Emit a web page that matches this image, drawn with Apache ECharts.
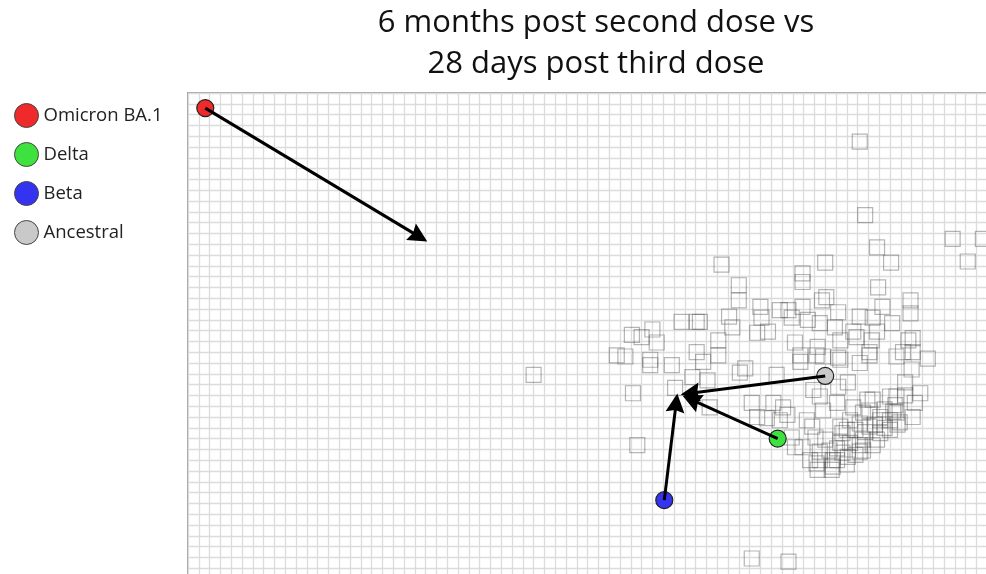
<!DOCTYPE html>
<html>
<head>
<meta charset="utf-8">
<script src="https://cdn.jsdelivr.net/npm/echarts@6/dist/echarts.min.js"></script>
<style>
  html, body { margin: 0; padding: 0; background: #fff; }
  #main { width: 986px; height: 574px; }
</style>
</head>
<body>
<div id="main"></div>
<script>
// map units: one grid cell = 1 unit
const antigenNames = ['Omicron BA.1', 'Delta', 'Beta', 'Ancestral'];
const antigenColors = ['#ee2a2a', '#3ee23e', '#3434f0', '#c9c9c9'];
const antigenX = [1.6, 54.6, 44.1, 59.0];
const antigenY = [43.6, 13.0, 7.3, 18.8];
// where each antigen moved to (arrow head)
const movedX = [21.4, 46.6, 45.2, 46.5];
const movedY = [31.7, 16.6, 16.3, 17.2];

// sera positions [x, y]
const sera = [
  [62.2, 40.5], [62.7, 33.7], [63.8, 30.7], [65.1, 29.3], [59.0, 29.3], [70.8, 31.5],
  [72.2, 29.4], [73.6, 31.5], [49.4, 29.1], [56.9, 28.3], [56.9, 27.5], [63.9, 27.0],
  [64.3, 25.2], [66.9, 25.8], [66.9, 24.6], [60.2, 24.7], [59.1, 26.1], [62.2, 24.3],
  [63.4, 24.2], [65.2, 23.7], [59.9, 23.3], [61.9, 22.4], [63.3, 22.1], [66.7, 22.1],
  [60.4, 22.1], [66.2, 21.0], [67.1, 21.0], [68.5, 20.4], [63.1, 21.0], [60.2, 20.5],
  [58.8, 20.6], [62.2, 20.0], [51.0, 27.2], [51.0, 25.8], [53.0, 25.2], [53.1, 24.2],
  [50.1, 24.3], [50.4, 23.3], [52.7, 22.8], [53.7, 22.9], [55.6, 24.9], [56.9, 25.2],
  [57.4, 24.0], [58.7, 25.8], [58.5, 23.7], [49.1, 22.1], [49.1, 20.7], [56.2, 21.9],
  [56.7, 20.7], [58.3, 21.5], [47.4, 23.8], [51.6, 19.5], [54.8, 24.9], [55.9, 24.2],
  [41.1, 22.6], [42.0, 22.4], [43.0, 23.1], [43.4, 21.9], [39.7, 20.7], [40.5, 20.6],
  [42.8, 20.3], [42.8, 19.8], [44.8, 19.8], [45.7, 23.8], [47.1, 23.8], [47.1, 21.0],
  [47.7, 20.1], [46.7, 18.7], [48.1, 18.4], [41.2, 17.2], [45.1, 17.7], [32.0, 18.9],
  [41.6, 12.4], [52.2, 1.9], [55.6, 1.6], [51.1, 19.1], [54.5, 18.9], [56.7, 20.1],
  [48.3, 15.9], [52.2, 16.3], [54.2, 16.3], [55.1, 15.9], [52.7, 15.0], [53.6, 14.9],
  [55.5, 15.2], [55.9, 13.1], [57.8, 14.1], [58.1, 13.1], [58.5, 16.9], [58.8, 15.6],
  [60.1, 16.3], [60.4, 14.1], [58.5, 11.8], [58.5, 11.0], [59.7, 11.0], [60.4, 12.6],
  [61.1, 18.2], [60.2, 17.8], [57.9, 17.5], [62.9, 16.6], [65.6, 16.9], [67.3, 16.3],
  [67.1, 15.0], [65.3, 15.5], [61.6, 15.9], [54.8, 14.7], [57.3, 14.7], [56.9, 12.2],
  [61.0, 13.8], [62.2, 14.4], [64.1, 14.7], [65.9, 14.5], [59.4, 11.9], [58.2, 10.7],
  [59.7, 10.4], [61.1, 11.3], [62.5, 11.9], [63.8, 12.9], [65.0, 13.8], [60.4, 20.3],
  [63.1, 20.7], [65.6, 20.6], [67.0, 19.4], [66.4, 18.2], [67.8, 17.2], [65.0, 16.9],
  [63.4, 16.6], [62.5, 15.4], [64.1, 15.0], [65.6, 15.4], [65.7, 14.3], [64.5, 14.0],
  [63.1, 14.1], [61.8, 13.8], [60.6, 13.5], [61.3, 12.6], [62.5, 12.9], [60.1, 12.1],
  [62.2, 11.8], [60.1, 11.0], [59.6, 10.1], [56.2, 12.2], [57.6, 11.0], [58.3, 10.1],
  [60.6, 11.7], [62.2, 12.4], [63.4, 12.4], [67.1, 22.3], [63.8, 22.9], [61.6, 22.9],
  [58.2, 20.7], [61.0, 10.6], [61.8, 11.5], [64.1, 13.5], [65.0, 14.7], [65.5, 16.1],
  [61.3, 14.7], [62.7, 13.6], [63.6, 14.3], [64.5, 15.7], [66.4, 17.0], [59.0, 12.9],
  [63.1, 15.6]
];

const FONT = '"Open Sans", "Noto Sans", sans-serif';

let chart = echarts.init(document.getElementById('main'));

let antigenSeries = antigenNames.map(function(name, i) {
  return {
    name: name,
    type: 'scatter',
    z: 3,
    symbol: 'circle',
    symbolSize: 17,
    itemStyle: {
      color: antigenColors[i],
      borderColor: '#222',
      borderWidth: 1.2,
      opacity: 1
    },
    data: [[antigenX[i], antigenY[i]]]
  };
});

let arrows = antigenNames.map(function(name, i) {
  return {
    coords: [[antigenX[i], antigenY[i]], [movedX[i], movedY[i]]]
  };
});

let option = {
  animation: false,
  title: {
    text: '6 months post second dose vs\n28 days post third dose',
    left: 596,
    top: 3,
    padding: 0,
    textAlign: 'center',
    textStyle: {
      fontFamily: FONT,
      fontSize: 31,
      fontWeight: 'normal',
      color: '#111',
      lineHeight: 41
    }
  },
  legend: {
    orient: 'vertical',
    left: 9,
    top: 98,
    icon: 'circle',
    itemWidth: 24,
    itemHeight: 24,
    itemGap: 14,
    itemStyle: {
      borderColor: '#444',
      borderWidth: 1
    },
    textStyle: {
      fontFamily: FONT,
      fontSize: 18.5,
      color: '#222'
    },
    data: antigenNames
  },
  grid: {
    left: 188,
    top: 93,
    width: 810,
    height: 486,
    outerBoundsMode: 'none',
    show: true,
    borderColor: '#a3a3a3',
    borderWidth: 2
  },
  xAxis: {
    type: 'value',
    min: 0,
    max: 75,
    interval: 1,
    axisLine: { show: false },
    axisTick: { show: false },
    axisLabel: { show: false },
    splitLine: {
      show: true,
      lineStyle: { color: '#dcdcdc', width: 1.3 }
    }
  },
  yAxis: {
    type: 'value',
    min: 0,
    max: 45,
    interval: 1,
    axisLine: { show: false },
    axisTick: { show: false },
    axisLabel: { show: false },
    splitLine: {
      show: true,
      lineStyle: { color: '#dcdcdc', width: 1.3 }
    }
  },
  series: [{
      name: 'sera',
      type: 'scatter',
      z: 2,
      symbol: 'rect',
      symbolSize: 15,
      silent: true,
      itemStyle: {
        color: 'rgba(0,0,0,0)',
        borderColor: 'rgba(70,70,70,0.5)',
        borderWidth: 1.2
      },
      data: sera
    }
  ].concat(antigenSeries).concat([{
    name: 'moves',
    type: 'lines',
    coordinateSystem: 'cartesian2d',
    z: 4,
    silent: true,
    symbol: ['none', 'path://M10,0 L20,24 L10,21 L0,24 Z'],
    symbolSize: 19,
    lineStyle: {
      color: '#000',
      width: 3,
      opacity: 1,
      curveness: 0
    },
    data: arrows
  }])
};

if (option && typeof option === 'object') {
  chart.setOption(option);
}
</script>
</body>
</html>
